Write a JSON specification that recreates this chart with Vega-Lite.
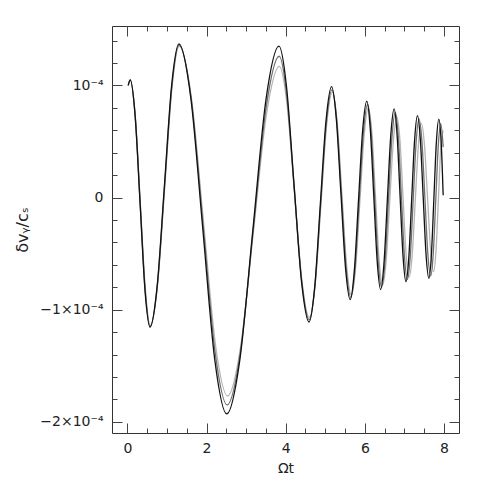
{
  "$schema": "https://vega.github.io/schema/vega-lite/v6.json",
  "autosize": "none",
  "width": 347,
  "height": 407,
  "padding": {"left": 112, "top": 26, "right": 26, "bottom": 52},
  "background": "white",
  "config": {
    "view": {"stroke": "#333333", "strokeWidth": 1},
    "axis": {"tickWidth": 1, "tickColor": "#444444", "domain": false, "grid": false}
  },
  "datasets": {
    "curves": [
      {"run":"c","t":0.02,"v":1.00e-4},{"run":"c","t":0.07,"v":1.05e-4},{"run":"c","t":0.1975,"v":0.729e-4},{"run":"c","t":0.325,"v":-0.045e-4},{"run":"c","t":0.4525,"v":-0.819e-4},{"run":"c","t":0.58,"v":-1.14e-4},{"run":"c","t":0.7625,"v":-0.775e-4},{"run":"c","t":0.945,"v":0.105e-4},{"run":"c","t":1.1275,"v":0.985e-4},{"run":"c","t":1.31,"v":1.35e-4},{"run":"c","t":1.615,"v":0.893e-4},{"run":"c","t":1.92,"v":-0.21e-4},{"run":"c","t":2.225,"v":-1.313e-4},{"run":"c","t":2.53,"v":-1.77e-4},{"run":"c","t":2.8575,"v":-1.339e-4},{"run":"c","t":3.185,"v":-0.30e-4},{"run":"c","t":3.5125,"v":0.739e-4},{"run":"c","t":3.84,"v":1.17e-4},{"run":"c","t":4.03,"v":0.842e-4},{"run":"c","t":4.22,"v":0.05e-4},{"run":"c","t":4.41,"v":-0.742e-4},{"run":"c","t":4.60,"v":-1.07e-4},{"run":"c","t":4.745,"v":-0.776e-4},{"run":"c","t":4.89,"v":-0.065e-4},{"run":"c","t":5.035,"v":0.646e-4},{"run":"c","t":5.18,"v":0.94e-4},{"run":"c","t":5.30,"v":0.675e-4},{"run":"c","t":5.42,"v":0.035e-4},{"run":"c","t":5.54,"v":-0.605e-4},{"run":"c","t":5.66,"v":-0.87e-4},{"run":"c","t":5.7675,"v":-0.625e-4},{"run":"c","t":5.875,"v":-0.035e-4},{"run":"c","t":5.9825,"v":0.555e-4},{"run":"c","t":6.09,"v":0.80e-4},{"run":"c","t":6.18,"v":0.569e-4},{"run":"c","t":6.27,"v":0.01e-4},{"run":"c","t":6.36,"v":-0.549e-4},{"run":"c","t":6.45,"v":-0.78e-4},{"run":"c","t":6.54,"v":-0.56e-4},{"run":"c","t":6.63,"v":-0.03e-4},{"run":"c","t":6.72,"v":0.50e-4},{"run":"c","t":6.81,"v":0.72e-4},{"run":"c","t":6.8875,"v":0.511e-4},{"run":"c","t":6.965,"v":0.005e-4},{"run":"c","t":7.0425,"v":-0.501e-4},{"run":"c","t":7.12,"v":-0.71e-4},{"run":"c","t":7.1975,"v":-0.509e-4},{"run":"c","t":7.275,"v":-0.025e-4},{"run":"c","t":7.3525,"v":0.459e-4},{"run":"c","t":7.43,"v":0.66e-4},{"run":"c","t":7.5075,"v":0.467e-4},{"run":"c","t":7.585,"v":0},{"run":"c","t":7.6625,"v":-0.467e-4},{"run":"c","t":7.74,"v":-0.66e-4},{"run":"c","t":7.80,"v":-0.47e-4},{"run":"c","t":7.86,"v":-0.01e-4},{"run":"c","t":7.92,"v":0.45e-4},{"run":"c","t":7.98,"v":0.60e-4},
      {"run":"b","t":0.02,"v":1.00e-4},{"run":"b","t":0.07,"v":1.05e-4},{"run":"b","t":0.196,"v":0.728e-4},{"run":"b","t":0.3225,"v":-0.05e-4},{"run":"b","t":0.449,"v":-0.828e-4},{"run":"b","t":0.575,"v":-1.15e-4},{"run":"b","t":0.7575,"v":-0.782e-4},{"run":"b","t":0.94,"v":0.105e-4},{"run":"b","t":1.1225,"v":0.992e-4},{"run":"b","t":1.305,"v":1.36e-4},{"run":"b","t":1.609,"v":0.89e-4},{"run":"b","t":1.9125,"v":-0.245e-4},{"run":"b","t":2.216,"v":-1.38e-4},{"run":"b","t":2.52,"v":-1.85e-4},{"run":"b","t":2.849,"v":-1.394e-4},{"run":"b","t":3.1775,"v":-0.295e-4},{"run":"b","t":3.506,"v":0.804e-4},{"run":"b","t":3.835,"v":1.26e-4},{"run":"b","t":4.025,"v":0.916e-4},{"run":"b","t":4.215,"v":0.085e-4},{"run":"b","t":4.405,"v":-0.746e-4},{"run":"b","t":4.595,"v":-1.09e-4},{"run":"b","t":4.739,"v":-0.79e-4},{"run":"b","t":4.8825,"v":-0.065e-4},{"run":"b","t":5.026,"v":0.66e-4},{"run":"b","t":5.17,"v":0.96e-4},{"run":"b","t":5.289,"v":0.689e-4},{"run":"b","t":5.4075,"v":0.035e-4},{"run":"b","t":5.526,"v":-0.619e-4},{"run":"b","t":5.645,"v":-0.89e-4},{"run":"b","t":5.751,"v":-0.638e-4},{"run":"b","t":5.8575,"v":-0.03e-4},{"run":"b","t":5.964,"v":0.578e-4},{"run":"b","t":6.07,"v":0.83e-4},{"run":"b","t":6.159,"v":0.591e-4},{"run":"b","t":6.2475,"v":0.015e-4},{"run":"b","t":6.336,"v":-0.561e-4},{"run":"b","t":6.425,"v":-0.80e-4},{"run":"b","t":6.511,"v":-0.571e-4},{"run":"b","t":6.5975,"v":-0.02e-4},{"run":"b","t":6.684,"v":0.531e-4},{"run":"b","t":6.77,"v":0.76e-4},{"run":"b","t":6.846,"v":0.542e-4},{"run":"b","t":6.9225,"v":0.015e-4},{"run":"b","t":6.999,"v":-0.512e-4},{"run":"b","t":7.075,"v":-0.73e-4},{"run":"b","t":7.149,"v":-0.521e-4},{"run":"b","t":7.2225,"v":-0.015e-4},{"run":"b","t":7.296,"v":0.491e-4},{"run":"b","t":7.37,"v":0.70e-4},{"run":"b","t":7.444,"v":0.495e-4},{"run":"b","t":7.5175,"v":0},{"run":"b","t":7.591,"v":-0.495e-4},{"run":"b","t":7.665,"v":-0.70e-4},{"run":"b","t":7.729,"v":-0.501e-4},{"run":"b","t":7.7925,"v":-0.02e-4},{"run":"b","t":7.856,"v":0.461e-4},{"run":"b","t":7.92,"v":0.66e-4},{"run":"b","t":7.98,"v":0.45e-4},
      {"run":"a","t":0.02,"v":1.00e-4},{"run":"a","t":0.07,"v":1.05e-4},{"run":"a","t":0.195,"v":0.727e-4},{"run":"a","t":0.32,"v":-0.053e-4},{"run":"a","t":0.445,"v":-0.833e-4},{"run":"a","t":0.57,"v":-1.155e-4},{"run":"a","t":0.7525,"v":-0.785e-4},{"run":"a","t":0.935,"v":0.108e-4},{"run":"a","t":1.1175,"v":1.0e-4},{"run":"a","t":1.30,"v":1.37e-4},{"run":"a","t":1.6025,"v":0.887e-4},{"run":"a","t":1.905,"v":-0.28e-4},{"run":"a","t":2.2075,"v":-1.447e-4},{"run":"a","t":2.51,"v":-1.93e-4},{"run":"a","t":2.84,"v":-1.45e-4},{"run":"a","t":3.17,"v":-0.29e-4},{"run":"a","t":3.50,"v":0.87e-4},{"run":"a","t":3.83,"v":1.35e-4},{"run":"a","t":4.02,"v":0.99e-4},{"run":"a","t":4.21,"v":0.12e-4},{"run":"a","t":4.40,"v":-0.75e-4},{"run":"a","t":4.59,"v":-1.11e-4},{"run":"a","t":4.7325,"v":-0.80e-4},{"run":"a","t":4.875,"v":-0.06e-4},{"run":"a","t":5.0175,"v":0.68e-4},{"run":"a","t":5.16,"v":0.99e-4},{"run":"a","t":5.2775,"v":0.71e-4},{"run":"a","t":5.395,"v":0.04e-4},{"run":"a","t":5.5125,"v":-0.63e-4},{"run":"a","t":5.63,"v":-0.91e-4},{"run":"a","t":5.735,"v":-0.65e-4},{"run":"a","t":5.84,"v":-0.025e-4},{"run":"a","t":5.945,"v":0.60e-4},{"run":"a","t":6.05,"v":0.86e-4},{"run":"a","t":6.1375,"v":0.61e-4},{"run":"a","t":6.225,"v":0.02e-4},{"run":"a","t":6.3125,"v":-0.57e-4},{"run":"a","t":6.40,"v":-0.82e-4},{"run":"a","t":6.485,"v":-0.58e-4},{"run":"a","t":6.57,"v":-0.015e-4},{"run":"a","t":6.655,"v":0.55e-4},{"run":"a","t":6.74,"v":0.79e-4},{"run":"a","t":6.815,"v":0.56e-4},{"run":"a","t":6.89,"v":0.02e-4},{"run":"a","t":6.965,"v":-0.52e-4},{"run":"a","t":7.04,"v":-0.75e-4},{"run":"a","t":7.1125,"v":-0.53e-4},{"run":"a","t":7.185,"v":-0.01e-4},{"run":"a","t":7.2575,"v":0.51e-4},{"run":"a","t":7.33,"v":0.73e-4},{"run":"a","t":7.4025,"v":0.52e-4},{"run":"a","t":7.475,"v":0.005e-4},{"run":"a","t":7.5475,"v":-0.51e-4},{"run":"a","t":7.62,"v":-0.72e-4},{"run":"a","t":7.6825,"v":-0.51e-4},{"run":"a","t":7.745,"v":-0.01e-4},{"run":"a","t":7.8075,"v":0.49e-4},{"run":"a","t":7.87,"v":0.70e-4},{"run":"a","t":7.93,"v":0.49e-4},{"run":"a","t":7.98,"v":0.02e-4}
    ]
  },
  "data": {"name": "curves"},
  "resolve": {"axis": {"x": "independent", "y": "independent"}},
  "layer": [
    {
      "mark": {"type": "line", "interpolate": "monotone", "strokeWidth": 1.3},
      "encoding": {
        "x": {"field": "t", "type": "quantitative",
          "scale": {"domain": [-0.39, 8.38], "nice": false, "zero": false},
          "axis": {"orient": "bottom", "values": [0, 2, 4, 6, 8], "format": "d", "ticks": false,
            "labelFont": "DejaVu Sans", "labelFontSize": 14, "labelColor": "#222222", "labelPadding": 8,
            "title": "Ωt", "titleFont": "DejaVu Sans", "titleFontSize": 14, "titleFontWeight": "normal", "titleColor": "#222222", "titlePadding": 6}},
        "y": {"field": "v", "type": "quantitative",
          "scale": {"domain": [-2.10e-4, 1.53e-4], "nice": false, "zero": false},
          "axis": {"orient": "left", "values": [-2e-4, -1e-4, 0, 1e-4], "ticks": false,
            "labelExpr": "datum.value > 0.00005 ? '10⁻⁴' : (datum.value > -0.00005 ? '0' : (datum.value > -0.00015 ? '−1×10⁻⁴' : '−2×10⁻⁴'))",
            "labelFont": "DejaVu Sans", "labelFontSize": 14, "labelColor": "#222222", "labelPadding": 9,
            "title": "δvᵧ/cₛ", "titleFont": "DejaVu Sans", "titleFontSize": 16, "titleFontWeight": "normal", "titleColor": "#222222", "titlePadding": 9}},
        "color": {"field": "run", "type": "nominal",
          "scale": {"domain": ["c", "b", "a"], "range": ["#b4b4b4", "#6e6e6e", "#111111"]},
          "legend": null}
      }
    },
    {
      "mark": {"type": "point", "opacity": 0},
      "encoding": {
        "x": {"field": "t", "type": "quantitative",
          "scale": {"domain": [-0.39, 8.38], "nice": false, "zero": false},
          "axis": {"orient": "bottom", "values": [0, 2, 4, 6, 8], "labels": false, "title": null, "tickSize": -10}},
        "y": {"field": "v", "type": "quantitative",
          "scale": {"domain": [-2.10e-4, 1.53e-4], "nice": false, "zero": false},
          "axis": {"orient": "left", "values": [-2e-4, -1e-4, 0, 1e-4], "labels": false, "title": null, "tickSize": -10}}
      }
    },
    {
      "mark": {"type": "point", "opacity": 0},
      "encoding": {
        "x": {"field": "t", "type": "quantitative",
          "scale": {"domain": [-0.39, 8.38], "nice": false, "zero": false},
          "axis": {"orient": "bottom", "values": [0, 0.5, 1, 1.5, 2, 2.5, 3, 3.5, 4, 4.5, 5, 5.5, 6, 6.5, 7, 7.5, 8], "labels": false, "title": null, "tickSize": -5}},
        "y": {"field": "v", "type": "quantitative",
          "scale": {"domain": [-2.10e-4, 1.53e-4], "nice": false, "zero": false},
          "axis": {"orient": "left", "values": [-2e-4, -1.8e-4, -1.6e-4, -1.4e-4, -1.2e-4, -1e-4, -0.8e-4, -0.6e-4, -0.4e-4, -0.2e-4, 0, 0.2e-4, 0.4e-4, 0.6e-4, 0.8e-4, 1e-4, 1.2e-4, 1.4e-4], "labels": false, "title": null, "tickSize": -5}}
      }
    },
    {
      "mark": {"type": "point", "opacity": 0},
      "encoding": {
        "x": {"field": "t", "type": "quantitative",
          "scale": {"domain": [-0.39, 8.38], "nice": false, "zero": false},
          "axis": {"orient": "top", "values": [0, 2, 4, 6, 8], "labels": false, "title": null, "tickSize": -10}},
        "y": {"field": "v", "type": "quantitative",
          "scale": {"domain": [-2.10e-4, 1.53e-4], "nice": false, "zero": false},
          "axis": {"orient": "right", "values": [-2e-4, -1e-4, 0, 1e-4], "labels": false, "title": null, "tickSize": -10}}
      }
    },
    {
      "mark": {"type": "point", "opacity": 0},
      "encoding": {
        "x": {"field": "t", "type": "quantitative",
          "scale": {"domain": [-0.39, 8.38], "nice": false, "zero": false},
          "axis": {"orient": "top", "values": [0, 0.5, 1, 1.5, 2, 2.5, 3, 3.5, 4, 4.5, 5, 5.5, 6, 6.5, 7, 7.5, 8], "labels": false, "title": null, "tickSize": -5}},
        "y": {"field": "v", "type": "quantitative",
          "scale": {"domain": [-2.10e-4, 1.53e-4], "nice": false, "zero": false},
          "axis": {"orient": "right", "values": [-2e-4, -1.8e-4, -1.6e-4, -1.4e-4, -1.2e-4, -1e-4, -0.8e-4, -0.6e-4, -0.4e-4, -0.2e-4, 0, 0.2e-4, 0.4e-4, 0.6e-4, 0.8e-4, 1e-4, 1.2e-4, 1.4e-4], "labels": false, "title": null, "tickSize": -5}}
      }
    }
  ]
}
